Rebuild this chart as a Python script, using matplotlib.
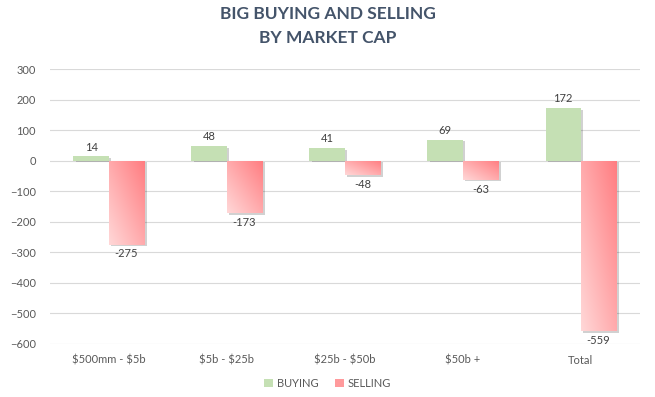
import numpy as np
import matplotlib
matplotlib.use("Agg")
import matplotlib.pyplot as plt
from matplotlib.patches import Rectangle, Patch
from matplotlib.colors import LinearSegmentedColormap

# chart data
categories = ["\\$500mm - \\$5b", "\\$5b - \\$25b", "\\$25b - \\$50b", "\\$50b +", "Total"]
buying = [14, 48, 41, 69, 172]
selling = [-275, -173, -48, -63, -559]

plt.rcParams["font.family"] = ["Lato", "DejaVu Sans"]

fig = plt.figure(figsize=(6.55, 3.97), dpi=100)
ax = fig.add_axes([0.076, 0.134, 0.901, 0.692])

x = np.arange(len(categories))
w = 0.3
green = "#C5E0B4"
red_cmap = LinearSegmentedColormap.from_list("red", ["#FFD8D8", "#FF7C80"])

# gradient: light at bottom-left, dark at top-right
cols = np.linspace(0, 1, 256)[None, :]
rows = np.linspace(1, 0, 256)[:, None]
grad_img = 0.5 * cols + 0.5 * rows

for i in range(len(categories)):
    # buying bar with soft shadow
    ax.add_patch(Rectangle((x[i] - w + 0.02, -5), w, buying[i], facecolor="#000000",
                           alpha=0.18, edgecolor="none", zorder=2))
    ax.bar(x[i] - w / 2, buying[i], w, color=green, zorder=3)
    # selling bar with soft shadow
    ax.add_patch(Rectangle((x[i] + 0.02, -5), w, selling[i], facecolor="#000000",
                           alpha=0.18, edgecolor="none", zorder=2))
    bar = ax.bar(x[i] + w / 2, selling[i], w, color="none", zorder=3)[0]
    im = ax.imshow(grad_img, cmap=red_cmap, aspect="auto",
                   extent=[x[i], x[i] + w, selling[i], 0], zorder=3, origin="upper")
    im.set_clip_path(bar)

    ax.text(x[i] - w / 2, buying[i] + 12, str(buying[i]), ha="center", va="bottom",
            fontsize=8, color="#404040")
    ax.text(x[i] + w / 2, selling[i] - 12, str(selling[i]), ha="center", va="top",
            fontsize=8, color="#404040")

ax.set_xlim(-0.5, len(categories) - 0.5)
ax.set_ylim(-600, 300)
ax.set_yticks(range(-600, 301, 100))
ax.set_xticks(x)
ax.set_xticklabels(categories)
ax.tick_params(axis="both", length=0, labelsize=8, labelcolor="#595959")
ax.tick_params(axis="y", pad=10)
ax.tick_params(axis="x", pad=8)
ax.grid(axis="y", color="#D9D9D9", linewidth=0.8, zorder=0)
ax.set_axisbelow(True)
for s in ax.spines.values():
    s.set_visible(False)

fig.suptitle("BIG BUYING AND SELLING\nBY MARKET CAP", y=0.985, fontsize=12.5,
             fontweight="bold", color="#44546A", linespacing=1.6)

handles = [Patch(facecolor=green, label="BUYING"), Patch(facecolor="#FF9A9C", label="SELLING")]
leg = fig.legend(handles=handles, loc="lower center", bbox_to_anchor=(0.5, -0.005), ncol=2,
                 frameon=False, fontsize=8, handlelength=0.8, handleheight=0.8,
                 handletextpad=0.3, columnspacing=1.5)
for t in leg.get_texts():
    t.set_color("#595959")

fig.savefig("out.png", dpi=100)
